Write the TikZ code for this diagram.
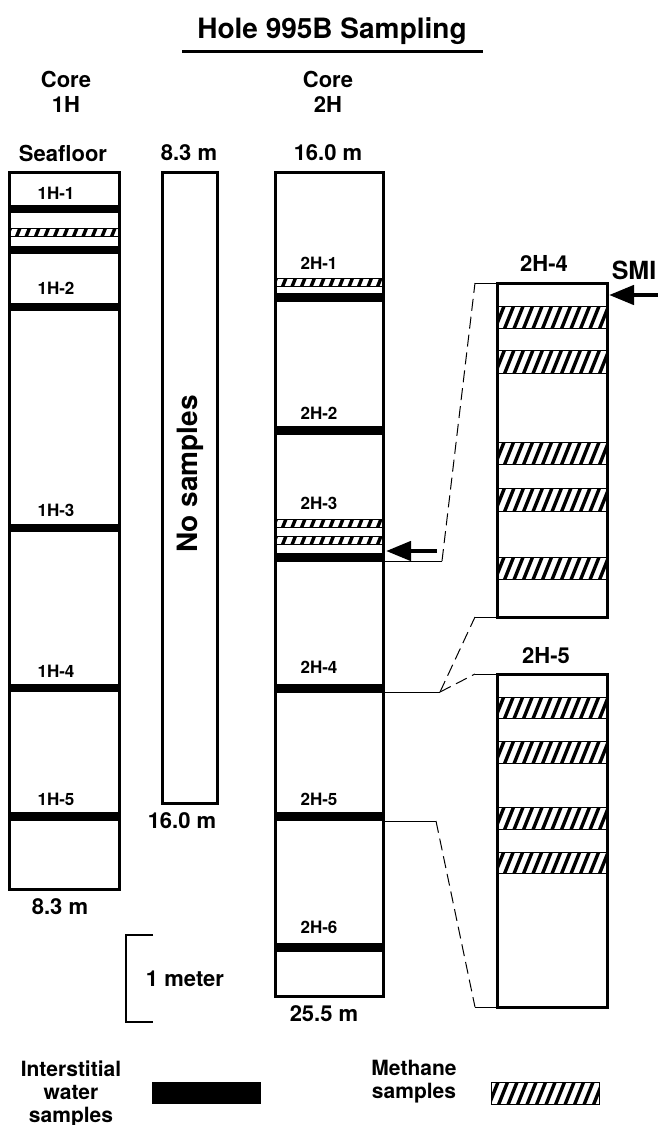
\documentclass[tikz,border=0pt]{standalone}
\usepackage{fontspec}
\setmainfont{TeX Gyre Heros}
\usetikzlibrary{arrows.meta}
\newcommand{\hatchband}[4]{%
  \begin{scope}
    \clip (#1,#2) rectangle (#3,#4);
    \foreach \k in {0,...,15}{\draw[line width=3.4pt] ({#1-12+9.5*\k},{#4+2}) -- ++({0.4*(#4-#2+4)},{-(#4-#2+4)});}
  \end{scope}
  \draw[line width=1pt] (#1,#2) rectangle (#3,#4);}
\newcommand{\blackband}[4]{\fill (#1,#2) rectangle (#3,#4);}
\begin{document}
\begin{tikzpicture}[x=1pt,y=-1pt,
  titlefont/.style={font=\bfseries\fontsize{28}{32}\selectfont, inner sep=0pt},
  lbl/.style={font=\bfseries\fontsize{22}{25}\selectfont, align=center, inner sep=0pt},
  leg/.style={font=\bfseries\fontsize{21}{23}\selectfont, align=center, inner sep=0pt},
  sml/.style={font=\bfseries\fontsize{17}{19}\selectfont, inner sep=0pt},
  colbox/.style={draw, line width=3pt},
  thin/.style={line width=1pt},
  dashline/.style={line width=1pt, dash pattern=on 12pt off 6pt},
  bigarrow/.style={line width=4.5pt, -{Triangle[length=25pt,width=19pt]}},
]
\useasboundingbox (0,0) rectangle (658,1125);

% title
\node[titlefont] (title) at (332,31) {Hole 995B Sampling};
\coordinate (ulL) at (182,51);
\coordinate (ulR) at (483,51);
\draw[line width=3pt] (ulL) -- (ulR);

% column headers
\node[lbl] (h1) at (66,92) {Core\\1H};
\node[lbl] (h2) at (328,92) {Core\\2H};
\node[lbl] (sf) at (63,153) {Seafloor};
\node[lbl] (t83) at (189,153) {8.3 m};
\node[lbl] (t160) at (328,153) {16.0 m};

% ---- Core 1H ----
\blackband{9}{205}{119}{213}
\hatchband{9}{228}{119}{236}
\blackband{9}{246}{119}{254}
\blackband{9}{303}{119}{311}
\blackband{9}{524}{119}{532}
\blackband{9}{684}{119}{692}
\blackband{9}{812}{119}{821}
\draw[colbox] (9,172) rectangle (119,889);
\node[sml] (l11) at (56,193) {1H-1};
\node[sml] (l12) at (56,288) {1H-2};
\node[sml] (l13) at (56,510) {1H-3};
\node[sml] (l14) at (56,671) {1H-4};
\node[sml] (l15) at (56,799) {1H-5};
\node[lbl] (b83) at (60,907) {8.3 m};

% ---- No samples ----
\draw[colbox] (162,172) rectangle (217,803);
\node[font=\bfseries\fontsize{28}{30}\selectfont, inner sep=0pt, rotate=90] (nos) at (190,474) {No samples};
\node[lbl] (b160) at (182,821) {16.0 m};

% ---- Core 2H ----
\hatchband{275}{278}{383}{286}
\blackband{275}{293}{383}{302}
\blackband{275}{426}{383}{435}
\hatchband{275}{519}{383}{527}
\hatchband{275}{536}{383}{544}
\blackband{275}{553}{383}{562}
\blackband{275}{684}{383}{693}
\blackband{275}{812}{383}{821}
\blackband{275}{943}{383}{952}
\draw[colbox] (275,172) rectangle (383,996);
\node[sml] (l21) at (319,263) {2H-1};
\node[sml] (l22) at (319,413) {2H-2};
\node[sml] (l23) at (319,503) {2H-3};
\node[sml] (l24) at (319,667) {2H-4};
\node[sml] (l25) at (319,799) {2H-5};
\node[sml] (l26) at (319,927) {2H-6};
\node[lbl] (b255) at (324,1014) {25.5 m};

% ---- detail 2H-4 ----
\hatchband{497}{306}{607}{328}
\hatchband{497}{350}{607}{373}
\hatchband{497}{442}{607}{464}
\hatchband{497}{488}{607}{511}
\hatchband{497}{557}{607}{579}
\draw[colbox] (497,283) rectangle (607,617);
\node[lbl] (d24) at (544,263) {2H-4};
\node[font=\bfseries\fontsize{25}{28}\selectfont, inner sep=0pt] (smi) at (634,270) {SMI};

% ---- detail 2H-5 ----
\hatchband{497}{697}{607}{718}
\hatchband{497}{741}{607}{763}
\hatchband{497}{807}{607}{829}
\hatchband{497}{852}{607}{873}
\draw[colbox] (497,674) rectangle (607,1007);
\node[lbl] (d25) at (546,656) {2H-5};

% ---- connectors ----
\coordinate (a1) at (383,561);
\coordinate (a2) at (442,561);
\coordinate (a3) at (475,283);
\coordinate (a4) at (497,283);
\draw[thin] (a1) -- (a2);
\draw[dashline] (a2) -- (a3);
\draw[thin] (a3) -- (a4);

\coordinate (b1) at (383,692);
\coordinate (b2) at (440,692);
\coordinate (b3) at (475,617);
\coordinate (b4) at (497,617);
\coordinate (b5) at (475,674);
\coordinate (b6) at (497,674);
\draw[thin] (b1) -- (b2);
\draw[dashline] (b2) -- (b3);
\draw[thin] (b3) -- (b4);
\draw[dashline] (b2) -- (b5);
\draw[thin] (b5) -- (b6);

\coordinate (c1) at (383,821);
\coordinate (c2) at (436,821);
\coordinate (c3) at (475,1007);
\coordinate (c4) at (497,1007);
\draw[thin] (c1) -- (c2);
\draw[dashline] (c2) -- (c3);
\draw[thin] (c3) -- (c4);

% arrows
\coordinate (arS) at (437,551);
\coordinate (arE) at (386,551);
\draw[bigarrow] (arS) -- (arE);
\coordinate (smS) at (660,295);
\coordinate (smE) at (609,295);
\draw[bigarrow] (smS) -- (smE);

% scale bar
\coordinate (s1) at (153,935);
\coordinate (s2) at (126,935);
\coordinate (s3) at (126,1022);
\coordinate (s4) at (153,1022);
\draw[line width=2.5pt] (s1) -- (s2) -- (s3) -- (s4);
\node[lbl] (meter) at (185,979) {1 meter};

% legend
\node[leg] (legw) at (71,1094) {Interstitial\\water\\samples};
\blackband{152}{1082}{261}{1104}
\node[leg] (legm) at (414,1082) {Methane\\samples};
\hatchband{491}{1082}{599}{1104}
\end{tikzpicture}
\end{document}
